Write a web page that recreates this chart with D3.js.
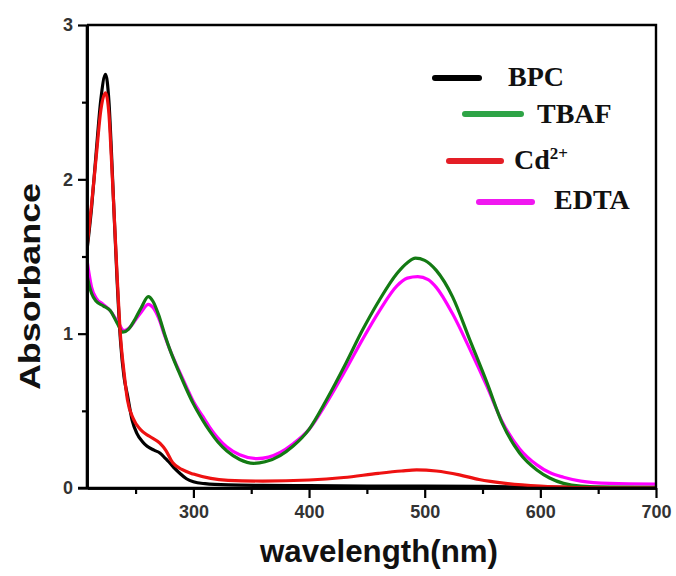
<!DOCTYPE html>
<html>
<head>
<meta charset="utf-8">
<script src="https://cdn.jsdelivr.net/npm/d3@7"></script>
<style>
  html, body { margin: 0; padding: 0; background: #ffffff; }
  svg { display: block; }
</style>
</head>
<body>
<svg id="chart" width="676" height="576"></svg>
<script>
// ---------- data (wavelength nm, absorbance) ----------
const seriesNames = ["BPC", "TBAF", "Cd", "EDTA"];

const bpc = [
  [208,1.54],[212,1.82],[216,2.18],[220,2.52],[224,2.68],[227,2.5],[229,2.2],[231,1.85],
  [234,1.35],[237,0.95],[240,0.72],[243,0.6],[247,0.44],[251,0.356],[256,0.3],[260,0.27],
  [266,0.245],[271,0.227],[276,0.19],[280,0.16],[284,0.125],[288,0.097],[294,0.06],
  [300,0.04],[310,0.028],[330,0.02],[360,0.017],[400,0.015],[450,0.013],[500,0.012],
  [550,0.01],[600,0.006],[650,0.004],[700,0.003]
];

const tbaf = [
  [208,1.38],[210,1.31],[212,1.26],[216,1.21],[222,1.18],[228,1.15],[234,1.07],[239,1.01],
  [244,1.03],[250,1.1],[255,1.17],[261,1.24],[265,1.21],[270,1.12],[275,1.0],[280,0.89],
  [287,0.76],[294,0.64],[300,0.545],[308,0.44],[314,0.37],[321,0.3],[329,0.24],
  [340,0.185],[352,0.16],[362,0.17],[375,0.21],[386,0.27],[400,0.38],[415,0.57],
  [432,0.81],[446,1.02],[461,1.22],[476,1.39],[485,1.46],[492,1.49],[500,1.475],
  [510,1.41],[524,1.24],[539,0.96],[554,0.68],[567,0.42],[582,0.227],[597,0.117],
  [608,0.065],[620,0.03],[635,0.012],[660,0.006],[700,0.005]
];

const cd = [
  [208,1.56],[212,1.84],[216,2.15],[220,2.45],[224,2.56],[227,2.42],[229,2.15],[231,1.85],
  [234,1.38],[237,0.98],[240,0.75],[243,0.57],[248,0.45],[254,0.38],[262,0.335],
  [271,0.29],[276,0.245],[282,0.165],[290,0.12],[300,0.09],[315,0.062],[330,0.05],
  [360,0.045],[400,0.052],[430,0.068],[460,0.095],[480,0.11],[493,0.117],[510,0.11],
  [530,0.085],[547,0.055],[570,0.03],[600,0.012],[630,0.003],[660,0.0],[700,0.0]
];

const edta = [
  [208,1.48],[210,1.38],[212,1.3],[216,1.23],[222,1.19],[228,1.15],[235,1.07],[240,1.02],
  [245,1.04],[250,1.09],[255,1.14],[261,1.19],[265,1.17],[270,1.1],[275,0.99],[280,0.89],
  [287,0.77],[294,0.655],[300,0.56],[308,0.465],[314,0.395],[321,0.325],[329,0.265],
  [340,0.215],[355,0.19],[365,0.2],[375,0.23],[386,0.285],[400,0.38],[415,0.55],
  [432,0.77],[446,0.96],[461,1.15],[476,1.31],[485,1.36],[494,1.37],[503,1.35],
  [510,1.3],[524,1.13],[539,0.9],[554,0.655],[567,0.43],[582,0.255],[597,0.15],
  [608,0.1],[620,0.07],[635,0.045],[660,0.03],[700,0.025]
];

const xTicks = [300, 400, 500, 600, 700];
const xMinorTicks = [250, 350, 450, 550, 650];
const yTicks = [0, 1, 2, 3];
const yMinorTicks = [0.5, 1.5, 2.5];

const lineColors = { BPC: "#000000", TBAF: "#137a13", Cd: "#ee1111", EDTA: "#ff00ff" };
const legendColors = { BPC: "#000000", TBAF: "#2ea446", Cd: "#e41e26", EDTA: "#f018f0" };
const seriesData = { BPC: bpc, TBAF: tbaf, Cd: cd, EDTA: edta };

// ---------- layout ----------
const svg = d3.select("#chart");
const pLeft = 87, pRight = 656, pTop = 25, pBottom = 488;

const x = d3.scaleLinear().domain([208, 700]).range([pLeft, pRight]);
const y = d3.scaleLinear().domain([0, 3]).range([pBottom, pTop]);

svg.append("defs").append("clipPath").attr("id", "plotclip")
  .append("rect").attr("x", pLeft).attr("y", pTop - 2)
  .attr("width", pRight - pLeft).attr("height", pBottom - pTop + 2);

// ---------- curves ----------
const line = d3.line()
  .x(d => x(d[0])).y(d => y(d[1]))
  .curve(d3.curveMonotoneX);

const drawOrder = ["BPC", "EDTA", "TBAF", "Cd"];
const plot = svg.append("g").attr("clip-path", "url(#plotclip)");
drawOrder.forEach(name => {
  plot.append("path")
    .datum(seriesData[name])
    .attr("fill", "none")
    .attr("stroke", lineColors[name])
    .attr("stroke-width", 3.2)
    .attr("stroke-linejoin", "round")
    .attr("d", line);
});

// ---------- frame ----------
svg.append("path")
  .attr("d", `M${pLeft},${pTop}H${pRight}V${pBottom}`)
  .attr("fill", "none").attr("stroke", "#000").attr("stroke-width", 2.4);

// ---------- axes ----------
const fontTick = "Liberation Sans, Arial, sans-serif";

const xAxis = svg.append("g").attr("transform", `translate(0,${pBottom})`)
  .call(d3.axisBottom(x).tickValues(xTicks).tickSize(10).tickPadding(7).tickSizeOuter(0));
const xMinor = svg.append("g").attr("transform", `translate(0,${pBottom})`)
  .call(d3.axisBottom(x).tickValues(xMinorTicks).tickSize(6).tickFormat("").tickSizeOuter(0));

const yAxis = svg.append("g").attr("transform", `translate(${pLeft},0)`)
  .call(d3.axisLeft(y).tickValues(yTicks).tickSize(9).tickPadding(5).tickFormat(d3.format("d")).tickSizeOuter(0));
const yMinor = svg.append("g").attr("transform", `translate(${pLeft},0)`)
  .call(d3.axisLeft(y).tickValues(yMinorTicks).tickSize(5).tickFormat("").tickSizeOuter(0));

[xAxis, xMinor, yAxis, yMinor].forEach(g => {
  g.select(".domain").attr("stroke", "#000").attr("stroke-width", 2.6);
  g.selectAll(".tick line").attr("stroke", "#000").attr("stroke-width", 2.2);
  g.selectAll(".tick text")
    .attr("font-family", fontTick).attr("font-size", 18)
    .attr("font-weight", "bold").attr("fill", "#333");
});
svg.append("line").attr("x1", pLeft - 9).attr("x2", pRight).attr("y1", pBottom).attr("y2", pBottom)
  .attr("stroke", "#000").attr("stroke-width", 2.6);
svg.append("line").attr("x1", pLeft).attr("x2", pLeft).attr("y1", pTop).attr("y2", pBottom)
  .attr("stroke", "#000").attr("stroke-width", 2.6);

// ---------- axis titles ----------
svg.append("text")
  .attr("x", 260).attr("y", 562)
  .attr("font-family", fontTick).attr("font-weight", "bold").attr("font-size", 31)
  .attr("fill", "#111")
  .attr("textLength", 238).attr("lengthAdjust", "spacingAndGlyphs")
  .text("wavelength(nm)");

svg.append("text")
  .attr("transform", "translate(40,390) rotate(-90)")
  .attr("x", 0).attr("y", 0)
  .attr("font-family", fontTick).attr("font-weight", "bold").attr("font-size", 29)
  .attr("fill", "#111")
  .attr("textLength", 207).attr("lengthAdjust", "spacingAndGlyphs")
  .text("Absorbance");

// ---------- legend ----------
const legendItems = [
  { key: "BPC", label: "BPC", x1: 435, x2: 479, ly: 78, tx: 508, ty: 86 },
  { key: "TBAF", label: "TBAF", x1: 465, x2: 521, ly: 114, tx: 537, ty: 123 },
  { key: "Cd", label: "Cd", sup: "2+", x1: 449, x2: 501, ly: 161, tx: 514, ty: 169 },
  { key: "EDTA", label: "EDTA", x1: 479, x2: 532, ly: 202, tx: 554, ty: 209 }
];
const serif = "Liberation Serif, Times New Roman, serif";
const leg = svg.append("g");
legendItems.forEach(it => {
  leg.append("line")
    .attr("x1", it.x1).attr("x2", it.x2).attr("y1", it.ly).attr("y2", it.ly)
    .attr("stroke", legendColors[it.key]).attr("stroke-width", 6)
    .attr("stroke-linecap", "round");
  const t = leg.append("text")
    .attr("x", it.tx).attr("y", it.ty)
    .attr("font-family", serif).attr("font-weight", "bold").attr("font-size", 28)
    .attr("fill", "#111")
    .text(it.label);
  if (it.sup) {
    t.append("tspan").attr("dy", -10).attr("font-size", 17).text(it.sup);
  }
});
</script>
</body>
</html>
